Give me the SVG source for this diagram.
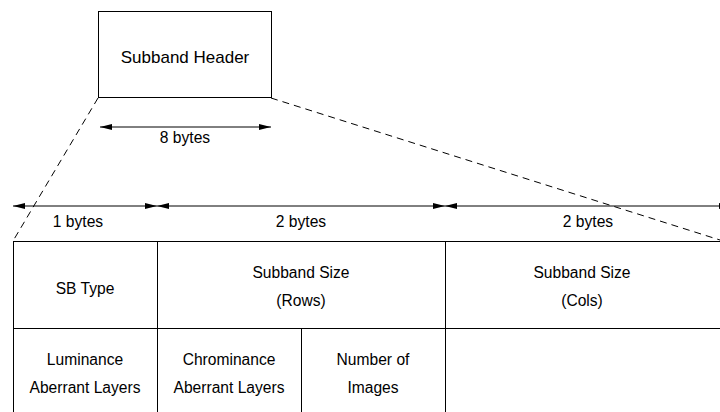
<svg xmlns="http://www.w3.org/2000/svg" width="720" height="412" viewBox="0 0 720 412">
<style>
text{font-family:"Liberation Sans",Arial,sans-serif;font-size:15.6px;fill:#000;text-anchor:middle}
.big{font-size:17px}
.ln{stroke:#000;stroke-width:1;fill:none}
.dash{stroke:#000;stroke-width:1;fill:none;stroke-dasharray:7,5}
.arr{stroke:#000;stroke-width:1;fill:none;marker-start:url(#ah);marker-end:url(#ah)}
</style>
<defs>
<marker id="ah" viewBox="0 0 12 6" refX="12" refY="3" markerWidth="12" markerHeight="6" markerUnits="userSpaceOnUse" orient="auto-start-reverse">
<path d="M0,0 L12,3 L0,6 Z" fill="#000"/>
</marker>
</defs>
<rect width="720" height="412" fill="#fff"/>
<g id="connectors">
<line class="dash" x1="98" y1="98" x2="13" y2="241"/>
<line class="dash" x1="271" y1="98" x2="720" y2="240"/>
<line class="arr" x1="100" y1="127" x2="271" y2="127"/>
<line class="arr" x1="13" y1="206" x2="157" y2="206"/>
<line class="arr" x1="157" y1="206" x2="445" y2="206"/>
<line class="arr" x1="445" y1="206" x2="731" y2="206"/>
</g>
<g id="header">
<rect class="ln" x="98.5" y="11.5" width="173" height="86"/>
<text class="big" x="185" y="63">Subband Header</text>
</g>
<g id="labels">
<text x="185" y="143">8 bytes</text>
<text x="78" y="227">1 bytes</text>
<text x="301" y="227">2 bytes</text>
<text x="588" y="227">2 bytes</text>
</g>
<g id="table">
<line class="ln" x1="13" y1="241.5" x2="720" y2="241.5"/>
<line class="ln" x1="13" y1="328.5" x2="720" y2="328.5"/>
<line class="ln" x1="13.5" y1="241" x2="13.5" y2="412"/>
<line class="ln" x1="157.5" y1="241" x2="157.5" y2="412"/>
<line class="ln" x1="445.5" y1="241" x2="445.5" y2="412"/>
<line class="ln" x1="301.5" y1="328" x2="301.5" y2="412"/>
</g>
<g id="sbtype"><text x="85" y="294">SB Type</text></g>
<g id="rows"><text x="301" y="278">Subband Size</text><text x="301" y="306">(Rows)</text></g>
<g id="cols"><text x="582" y="278">Subband Size</text><text x="582" y="306">(Cols)</text></g>
<g id="lum"><text x="85" y="365">Luminance</text><text x="85" y="393">Aberrant Layers</text></g>
<g id="chrom"><text x="229" y="365">Chrominance</text><text x="229" y="393">Aberrant Layers</text></g>
<g id="numimg"><text x="373" y="365">Number of</text><text x="373" y="393">Images</text></g>
</svg>
